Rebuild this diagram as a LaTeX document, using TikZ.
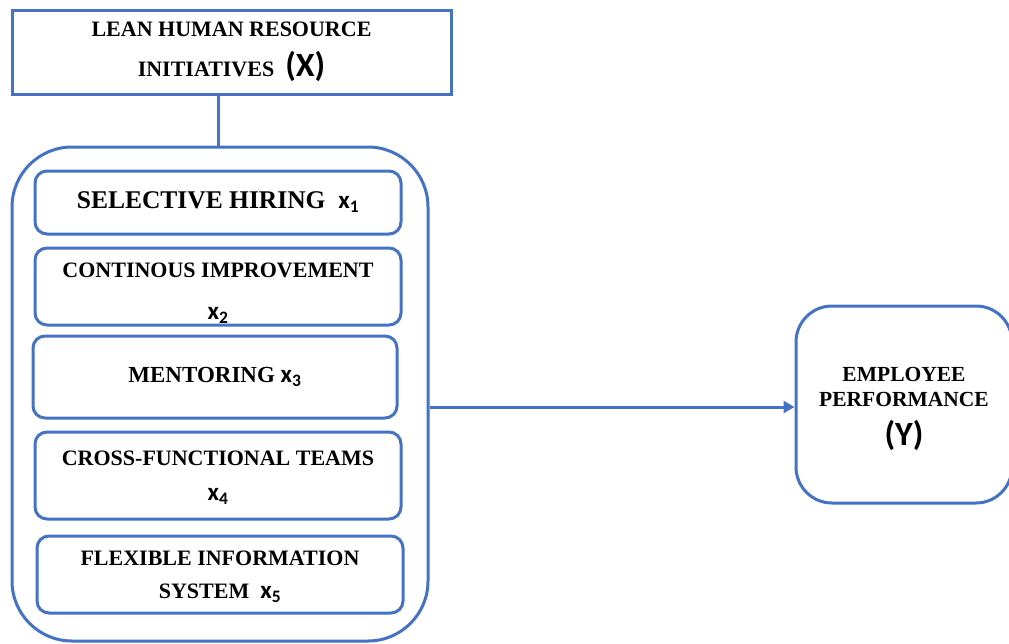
\documentclass[tikz,border=0pt]{standalone}
\usepackage{fontspec}
\setmainfont{Liberation Serif}
\newfontfamily\calfont{Carlito}
\usetikzlibrary{arrows.meta}
\definecolor{obl}{HTML}{4472C4}
\tikzset{
  frame/.style={draw=obl, line width=3pt, inner sep=0pt, align=center, text=black},
  inbox/.style={frame, rounded corners=12pt, minimum width=366pt},
  lbl/.style={font=\bfseries\fontsize{22}{34}\selectfont},
}
\newcommand{\xs}[1]{{\calfont\bfseries\fontsize{25}{25}\selectfont x\textsubscript{#1}}}
\begin{document}
\begin{tikzpicture}[x=1pt,y=-1pt]
\useasboundingbox (0,0) rectangle (1009,643);
\node[frame, minimum width=439pt, minimum height=84pt, font=\bfseries\fontsize{22}{40}\selectfont] (lhr) at (231.5,52)
  {LEAN HUMAN RESOURCE\\INITIATIVES\ \ {\calfont\bfseries\fontsize{34}{34}\selectfont (X)}};
\node[frame, rounded corners=60pt, minimum width=416pt, minimum height=494pt] (big) at (220,394) {};
\node[inbox, minimum height=63pt, font=\bfseries\fontsize{25.5}{26}\selectfont, text depth=4pt] (s1) at (218,202.5) {SELECTIVE HIRING\ \ \xs{1}};
\node[inbox, minimum height=77pt,
  label={[align=center, inner sep=0pt, yshift=-7pt, font=\bfseries\fontsize{22}{42}\selectfont]center:CONTINOUS IMPROVEMENT\\\xs{2}}] (s2) at (218,286.5) {};
\node[inbox, minimum width=364pt, minimum height=82pt, font=\bfseries\fontsize{23}{34}\selectfont, text depth=4pt] (s3) at (215,377) {MENTORING \xs{3}};
\node[inbox, minimum height=87pt,
  label={[align=center, inner sep=0pt, yshift=-2pt, font=\bfseries\fontsize{22}{35}\selectfont]center:CROSS-FUNCTIONAL TEAMS\\\xs{4}}] (s4) at (218,475.5) {};
\node[inbox, minimum height=77pt,
  label={[align=center, inner sep=0pt, yshift=-2pt, font=\bfseries\fontsize{22}{33}\selectfont]center:FLEXIBLE INFORMATION\\SYSTEM\ \ \xs{5}}] (s5) at (220,574.5) {};
\node[frame, rounded corners=36pt, minimum width=216pt, minimum height=197pt,
  label={[align=center, inner sep=0pt, yshift=-4.5pt, font=\bfseries\fontsize{21.5}{25}\selectfont]center:EMPLOYEE\\PERFORMANCE\\[12pt]{\calfont\bfseries\fontsize{34}{34}\selectfont (Y)}}] (emp) at (904,404.5) {};
\draw[obl, line width=3pt] (lhr.south -| 218,0) -- (big.north -| 218,0);
\draw[obl, line width=3pt, -{Triangle[length=11pt,width=12pt]}] (big.east |- 0,407) -- (emp.west |- 0,407);
\end{tikzpicture}
\end{document}
